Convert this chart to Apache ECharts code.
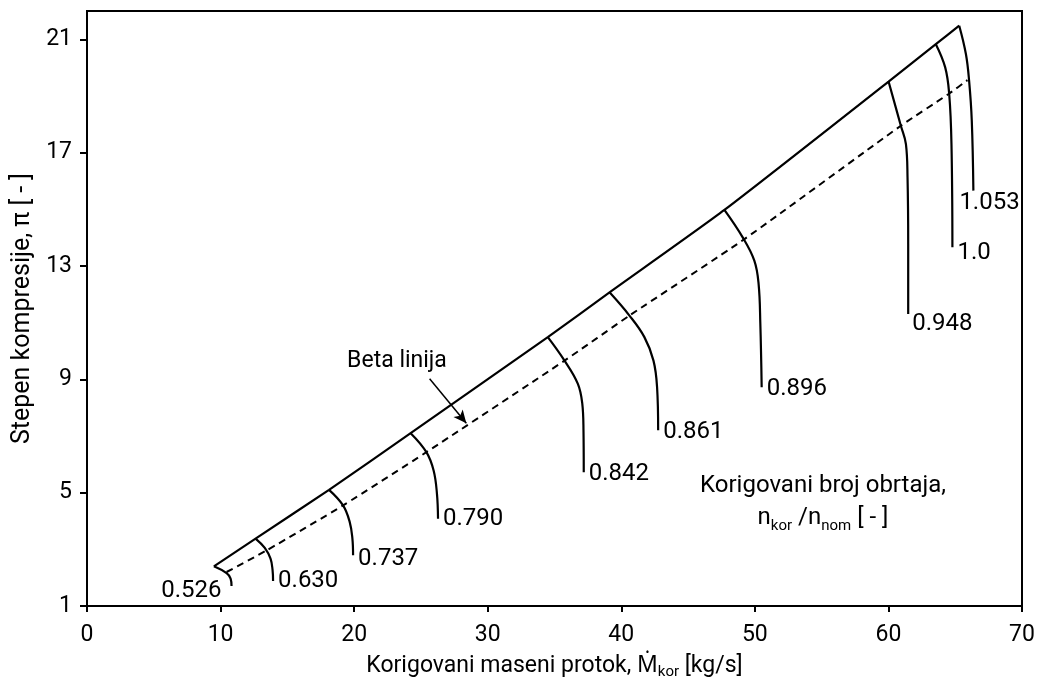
<!DOCTYPE html>
<html>
<head>
<meta charset="utf-8">
<script src="https://cdn.jsdelivr.net/npm/echarts@6/dist/echarts.min.js"></script>
<style>
html,body{margin:0;padding:0;background:#fff;}
#chart{width:1042px;height:688px;}
</style>
</head>
<body>
<div id="chart"></div>
<script>
// ---- data ----
const xTicks = [0, 10, 20, 30, 40, 50, 60, 70];
const yTicks = [1, 5, 9, 13, 17, 21];
const speedNames = ['0.526', '0.630', '0.737', '0.790', '0.842', '0.861', '0.896', '0.948', '1.0', '1.053'];

// surge line (solid upper boundary)
const surgeLine = [[9.50, 2.40], [12.62, 3.38], [18.12, 5.10], [24.23, 7.10], [34.50, 10.49],
  [39.12, 12.07], [47.72, 14.98], [60.01, 19.51], [63.55, 20.83], [65.30, 21.48]];

// beta line (dashed)
const betaLine = [[10.45, 2.20], [13.44, 2.96], [19.17, 4.55], [25.41, 6.43], [35.75, 9.66],
  [40.61, 11.25], [49.22, 13.95], [60.93, 17.95], [64.50, 19.07], [65.92, 19.56]];

// constant corrected speed lines
const n0526 = [[9.50, 2.40], [10.45, 2.16], [10.75, 1.97], [10.82, 1.71]];
const n0630 = [[12.62, 3.38], [13.31, 3.05], [13.74, 2.67], [13.89, 2.28], [13.93, 1.88]];
const n0737 = [[18.12, 5.10], [19.17, 4.55], [19.67, 3.96], [19.87, 3.38], [19.92, 2.79]];
const n0790 = [[24.23, 7.10], [25.41, 6.43], [25.95, 5.78], [26.20, 4.96], [26.28, 4.08]];
const n0842 = [[34.50, 10.49], [35.75, 9.66], [36.75, 8.84], [37.08, 8.14], [37.17, 7.20], [37.19, 5.72]];
const n0861 = [[39.12, 12.07], [40.61, 11.25], [41.73, 10.49], [42.41, 9.66], [42.68, 8.72], [42.76, 7.20]];
const n0896 = [[47.72, 14.98], [49.09, 14.01], [49.96, 13.19], [50.28, 12.37], [50.41, 10.96], [50.51, 8.72]];
const n0948 = [[60.01, 19.51], [60.93, 17.95], [61.31, 17.30], [61.43, 16.13], [61.48, 13.78], [61.48, 11.31]];
const n1000 = [[63.55, 20.83], [64.25, 20.01], [64.55, 19.07], [64.72, 17.30], [64.79, 13.66]];
const n1053 = [[65.30, 21.48], [65.80, 20.48], [66.04, 19.54], [66.24, 18.13], [66.36, 15.66]];
const speedLines = [n0526, n0630, n0737, n0790, n0842, n0861, n0896, n0948, n1000, n1053];

// annotation arrow for the beta line (data units)
const betaArrowFrom = [25.65, 9.02];
const betaArrowTo = [28.40, 7.45];

// ---- styling ----
const FONT = "Roboto, 'Noto Sans', 'DejaVu Sans', sans-serif";
const labelOffsets = [[-18, 5], [-3, 0], [-3, 4], [-3, 0], [-3, 2], [-3, 2], [-3, 2], [-4, 10], [-3, 6], [-22, 12]];

const chart = echarts.init(document.getElementById('chart'), null, {renderer: 'canvas'});

const series = [];
series.push({
  type: 'line', name: 'surge', data: surgeLine, smooth: 0.2, symbol: 'none',
  lineStyle: {color: '#000', width: 2.2}, silent: true, z: 3
});
series.push({
  type: 'line', name: 'beta', data: betaLine, smooth: 0.2, symbol: 'none',
  lineStyle: {color: '#000', width: 2, type: [7, 5]}, silent: true, z: 3,
  markLine: {
    silent: true, animation: false,
    symbol: ['none', 'arrow'], symbolSize: [9, 13],
    lineStyle: {color: '#000', width: 1.5, type: 'solid'},
    label: {show: false},
    data: [[{coord: betaArrowFrom}, {coord: betaArrowTo}]]
  }
});
speedLines.forEach((d, i) => {
  series.push({
    type: 'line', name: speedNames[i], data: d, smooth: 0.4, symbol: 'none',
    lineStyle: {color: '#000', width: 2.2}, silent: true, z: 4,
    endLabel: {
      show: true, formatter: '{a}', color: '#000', fontFamily: FONT, fontSize: 24,
      align: i === 0 ? 'right' : 'left', verticalAlign: 'middle',
      offset: labelOffsets[i]
    }
  });
});

chart.setOption({
  animation: false,
  backgroundColor: '#fff',
  textStyle: {fontFamily: FONT, color: '#000'},
  grid: {left: 87, right: 20, top: 11, bottom: 82, show: true, borderColor: '#000', borderWidth: 2, containLabel: false},
  xAxis: {
    type: 'value', min: 0, max: 70, interval: 10,
    name: 'Korigovani maseni protok, Ṁ{sub|kor} [kg/s]',
    nameLocation: 'middle', nameGap: 45,
    nameTextStyle: {
      fontFamily: FONT, fontSize: 23, color: '#000', lineHeight: 28,
      rich: {sub: {fontFamily: FONT, fontSize: 15, lineHeight: 17, verticalAlign: 'bottom', color: '#000'}}
    },
    axisLine: {show: true, lineStyle: {color: '#000', width: 2}},
    axisTick: {show: true, length: 6, lineStyle: {color: '#000', width: 2}},
    axisLabel: {fontFamily: FONT, fontSize: 23, color: '#000', margin: 18},
    splitLine: {show: false}
  },
  yAxis: {
    type: 'value', min: 1, max: 22,
    name: 'Stepen kompresije, π [ - ]',
    nameLocation: 'middle', nameGap: 51, nameRotate: 90,
    nameTextStyle: {fontFamily: FONT, fontSize: 25, color: '#000'},
    axisLine: {show: true, lineStyle: {color: '#000', width: 2}},
    axisTick: {show: true, length: 7, lineStyle: {color: '#000', width: 2}, customValues: yTicks},
    axisLabel: {fontFamily: FONT, fontSize: 23, color: '#000', margin: 15, customValues: yTicks},
    splitLine: {show: false}
  },
  graphic: [
    {
      type: 'text', x: 397, y: 361, silent: true,
      style: {text: 'Beta linija', fontFamily: FONT, fontSize: 23, fill: '#000', align: 'center', verticalAlign: 'middle'}
    },
    {
      type: 'text', x: 823, y: 502, silent: true,
      style: {
        text: 'Korigovani broj obrtaja,\nn{sub|kor} /n{sub|nom} [ - ]',
        fontFamily: FONT, fontSize: 24, lineHeight: 32, fill: '#000', align: 'center', verticalAlign: 'middle',
        rich: {sub: {fontFamily: FONT, fontSize: 15, lineHeight: 20, verticalAlign: 'bottom', fill: '#000'}}
      }
    }
  ],
  series: series
});
</script>
</body>
</html>
